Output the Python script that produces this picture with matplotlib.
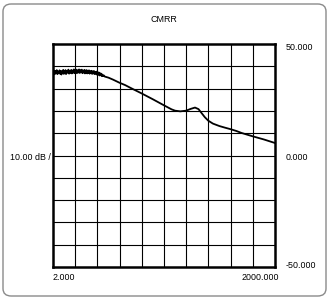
import matplotlib
matplotlib.use("Agg")
import matplotlib.pyplot as plt
from matplotlib.patches import FancyBboxPatch
import numpy as np

title = "CMRR"
scale_label = "10.00 dB /"
x_labels = ["2.000", "2000.000"]
y_labels = ["50.000", "0.000", "-50.000"]
x_min, x_max = 2.0, 2000.0
y_min, y_max = -50.0, 50.0

freq = [2.0, 2.05, 2.1, 2.15, 2.2, 2.25, 2.3, 2.35, 2.4, 2.45, 2.5, 2.55, 2.6,
        2.65, 2.7, 2.75, 2.8, 2.85, 2.9, 2.95, 3.0, 3.08, 3.15, 3.23, 3.3, 3.38,
        3.45, 3.53, 3.6, 3.68, 3.75, 3.83, 3.9, 3.98, 4.05, 4.13, 4.2, 4.3, 4.4,
        4.5, 4.6, 4.7, 4.8, 4.9, 5.0, 5.1, 5.2, 5.3, 5.4, 5.5, 5.6, 5.7, 5.8,
        5.9, 6.0, 6.13, 6.25, 6.38, 6.5, 6.63, 6.75, 6.88, 7.0, 7.15, 7.3, 7.45,
        7.6, 7.75, 7.9, 8.05, 8.2, 8.35, 8.5, 8.65, 8.8, 8.95, 9.1, 9.3, 9.5,
        9.75, 10.0,
        11.25, 13.0, 15.9, 18.8, 22.4, 31.7, 44.8, 63.2, 80.0, 89.3, 105.0,
        126.0, 145.0, 166.0, 185.0, 204.0, 225.0, 251.0, 290.0, 355.0, 420.0,
        502.0, 600.0, 708.0, 1000.0, 1413.0, 2000.0]
cmrr = [37.2, 38.1, 36.4, 37.9, 36.8, 38.3, 36.5, 37.6, 36.9, 38.2, 36.6, 37.8,
        36.3, 37.9, 37.0, 38.4, 36.6, 37.7, 36.9, 38.3, 36.5, 38.0, 37.1, 38.5,
        36.7, 37.9, 37.0, 38.4, 36.8, 38.1, 37.2, 38.6, 36.9, 38.0, 37.3, 38.5,
        36.9, 38.2, 37.2, 38.6, 37.0, 38.3, 37.3, 38.5, 36.9, 38.0, 37.2, 38.4,
        36.8, 38.1, 37.1, 38.3, 36.8, 37.9, 37.0, 38.2, 36.7, 37.8, 36.9, 38.0,
        36.6, 37.7, 36.8, 37.9, 36.5, 37.5, 36.6, 37.6, 36.2, 37.3, 36.3, 37.2,
        35.9, 36.9, 36.0, 36.7, 35.6, 36.3, 35.6, 35.9, 35.4,
        34.9, 34.0, 32.6, 31.6, 30.3, 27.8, 25.2, 22.5, 20.7, 20.1, 19.8,
        20.1, 20.9, 21.5, 20.8, 19.0, 17.2, 15.6, 14.3, 13.2, 12.5,
        11.8, 11.0, 10.1, 8.6, 7.2, 5.6]

W, H = 329, 299
fig = plt.figure(figsize=(W / 100, H / 100), dpi=100)
fig.patch.set_facecolor("white")

frame = FancyBboxPatch((3 / W, 3 / H), 323 / W, 292 / H,
                       boxstyle="round,pad=0,rounding_size=0.025",
                       transform=fig.transFigure, facecolor="none",
                       edgecolor="#8a8a8a", linewidth=1.0, zorder=-5)
fig.patches.append(frame)

ax = fig.add_axes([53 / W, 1 - 267 / H, 222 / W, 223 / H])
ax.set_xscale("log")
ax.set_xlim(x_min, x_max)
ax.set_ylim(y_min, y_max)
ax.set_facecolor("white")

lx0, lx1 = np.log10(x_min), np.log10(x_max)
for i in range(1, 10):
    ax.axvline(10 ** (lx0 + (lx1 - lx0) * i / 10), color="black", lw=0.8)
    ax.axhline(y_min + (y_max - y_min) * i / 10, color="black", lw=0.8)

ax.plot(freq, cmrr, color="black", lw=1.3)
ax.set_xticks([])
ax.set_yticks([])
ax.minorticks_off()
for s in ax.spines.values():
    s.set_linewidth(1.8)

fs = 6.4
fam = "Liberation Sans"
fig.text(164 / W, 1 - 19 / H, title, ha="center", va="center", fontsize=fs, family=fam)
fig.text(286 / W, 1 - 48 / H, y_labels[0], ha="left", va="center", fontsize=fs, family=fam)
fig.text(286 / W, 1 - 157 / H, y_labels[1], ha="left", va="center", fontsize=fs, family=fam)
fig.text(286 / W, 1 - 265 / H, y_labels[2], ha="left", va="center", fontsize=fs, family=fam)
fig.text(10 / W, 1 - 157 / H, scale_label, ha="left", va="center", fontsize=fs, family=fam)
fig.text(53 / W, 1 - 278 / H, x_labels[0], ha="left", va="center", fontsize=fs, family=fam)
fig.text(279 / W, 1 - 278 / H, x_labels[1], ha="right", va="center", fontsize=fs, family=fam)

fig.savefig("out.png", dpi=100)
